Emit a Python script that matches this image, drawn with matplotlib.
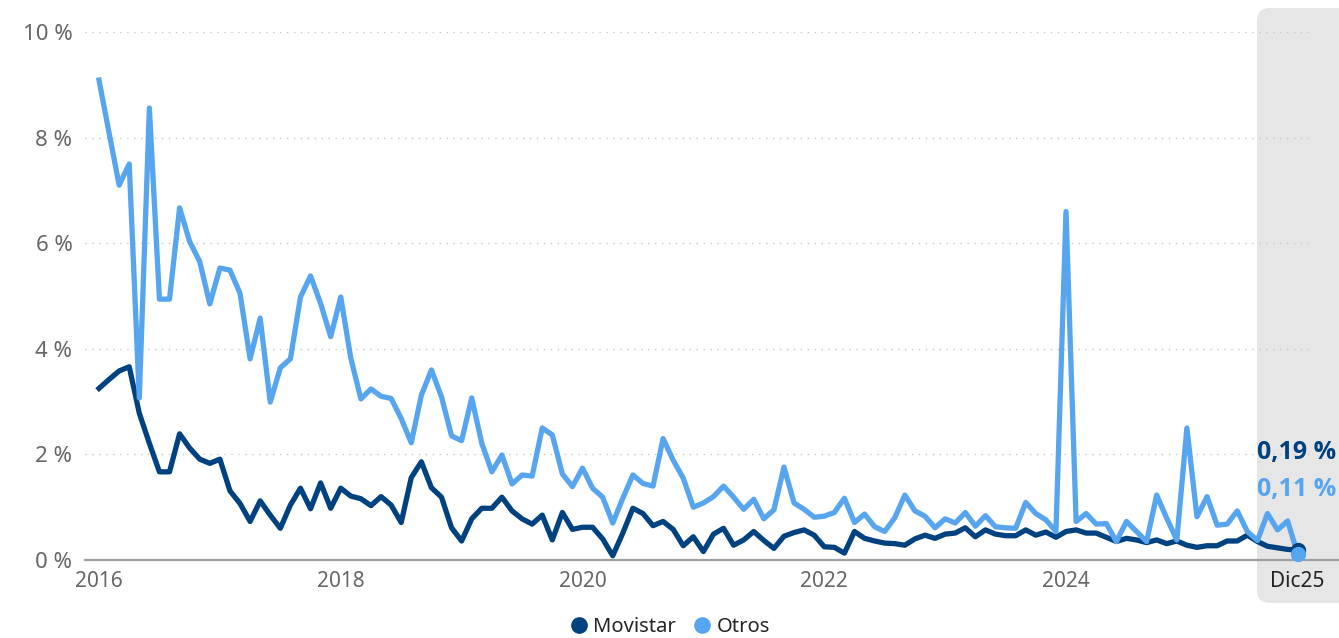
import numpy as np
import matplotlib
matplotlib.use("Agg")
import matplotlib.pyplot as plt
from matplotlib.patches import FancyBboxPatch
from matplotlib.lines import Line2D

plt.rcParams['font.family'] = ['Noto Sans', 'DejaVu Sans']

# monthly values, Jan 2016 .. Dec 2025 (%)
otros = [
    9.09, 8.09, 7.10, 7.50, 3.07, 8.56, 4.94, 4.94, 6.67, 6.03, 5.65, 4.85,
    5.53, 5.49, 5.05, 3.81, 4.58, 2.99, 3.64, 3.81, 4.98, 5.38, 4.86, 4.23,
    4.98, 3.82, 3.05, 3.24, 3.10, 3.06, 2.68, 2.22, 3.12, 3.60, 3.09, 2.35,
    2.26, 3.07, 2.21, 1.67, 1.99, 1.44, 1.61, 1.59, 2.50, 2.37, 1.63, 1.39,
    1.74, 1.36, 1.19, 0.70, 1.17, 1.61, 1.45, 1.40, 2.30, 1.89, 1.55, 1.00,
    1.08, 1.20, 1.40, 1.19, 0.96, 1.15, 0.78, 0.95, 1.76, 1.08, 0.96, 0.81,
    0.83, 0.90, 1.17, 0.71, 0.87, 0.63, 0.54, 0.80, 1.23, 0.93, 0.83, 0.61,
    0.78, 0.70, 0.90, 0.64, 0.84, 0.63, 0.61, 0.60, 1.09, 0.88, 0.76, 0.54,
    6.60, 0.73, 0.88, 0.68, 0.69, 0.35, 0.73, 0.54, 0.35, 1.23, 0.79, 0.38,
    2.50, 0.82, 1.20, 0.66, 0.68, 0.93, 0.54, 0.37, 0.88, 0.57, 0.74, 0.11,
]
movistar = [
    3.25, 3.42, 3.58, 3.66, 2.78, 2.21, 1.67, 1.67, 2.39, 2.12, 1.91, 1.83,
    1.91, 1.31, 1.07, 0.73, 1.12, 0.85, 0.60, 1.04, 1.36, 0.97, 1.46, 0.98,
    1.36, 1.21, 1.16, 1.03, 1.20, 1.04, 0.71, 1.56, 1.86, 1.37, 1.19, 0.61,
    0.36, 0.78, 0.98, 0.98, 1.19, 0.93, 0.78, 0.68, 0.85, 0.38, 0.90, 0.58,
    0.62, 0.62, 0.40, 0.08, 0.51, 0.98, 0.88, 0.65, 0.73, 0.58, 0.27, 0.44,
    0.16, 0.49, 0.60, 0.28, 0.38, 0.54, 0.37, 0.22, 0.45, 0.52, 0.57, 0.47,
    0.25, 0.24, 0.13, 0.54, 0.41, 0.36, 0.32, 0.31, 0.28, 0.40, 0.47, 0.41,
    0.49, 0.51, 0.61, 0.44, 0.57, 0.49, 0.46, 0.46, 0.57, 0.47, 0.53, 0.43,
    0.54, 0.57, 0.51, 0.51, 0.43, 0.35, 0.41, 0.38, 0.33, 0.38, 0.31, 0.36,
    0.28, 0.24, 0.27, 0.27, 0.36, 0.36, 0.47, 0.35, 0.26, 0.23, 0.20, 0.19,
]
months = np.arange(len(otros))
xtick_pos = [0, 24, 48, 72, 96, 119]
xtick_labels = ['2016', '2018', '2020', '2022', '2024', 'Dic25']
ytick_pos = [0, 2, 4, 6, 8, 10]

c_mov = '#00427f'
c_otr = '#58a5ef'

W, H = 1339, 638
fig = plt.figure(figsize=(W / 100, H / 100), dpi=100)
ax = fig.add_axes([85 / W, (H - 560) / H, (W - 85) / W, (560 - 32) / H])
ax.set_facecolor('none')

# grey highlight box behind the last month
box = FancyBboxPatch((12.57, 0.35), 0.95, 5.95,
                     boxstyle="round,pad=0,rounding_size=0.13",
                     transform=fig.dpi_scale_trans, facecolor='#e6e6e6',
                     edgecolor='none', zorder=-1)
fig.patches.append(box)

ax.set_xlim(-1.39, 123.1)
ax.set_ylim(0, 10)

ax.hlines(ytick_pos[1:], -1.39, 120.3, colors='#c8c8c8', linestyles=(0, (1, 4)),
          linewidth=1.0, zorder=1)

ax.plot(months, otros, color=c_otr, lw=3.8, solid_joinstyle='round', zorder=3)
ax.plot(months, movistar, color=c_mov, lw=3.8, solid_joinstyle='round', zorder=2)
ax.plot(months[-1], movistar[-1], 'o', color=c_mov, ms=10, zorder=4, clip_on=False)
ax.plot(months[-1], otros[-1], 'o', color=c_otr, ms=10, zorder=5, clip_on=False)

for s in ['top', 'right', 'left']:
    ax.spines[s].set_visible(False)
ax.spines['bottom'].set_color('#a0a0a0')
ax.spines['bottom'].set_linewidth(1.6)

ax.set_yticks(ytick_pos)
ax.set_yticklabels([f'{v} %' for v in ytick_pos])
ax.set_xticks(xtick_pos)
ax.set_xticklabels(xtick_labels)
ax.tick_params(axis='y', length=0, pad=9, labelsize=16, labelcolor='#666666')
ax.tick_params(axis='x', length=0, pad=8, labelsize=15, labelcolor='#666666')
ax.get_xticklabels()[-1].set_color('#252423')

def fmt(v):
    return f'{v:.2f}'.replace('.', ',') + ' %'

lab_font = ['Open Sans', 'DejaVu Sans']
ax.text(0.935, 0.203, fmt(movistar[-1]), transform=ax.transAxes, color=c_mov,
        fontsize=18, fontweight='bold', family=lab_font, va='center', ha='left',
        clip_on=False)
ax.text(0.935, 0.133, fmt(otros[-1]), transform=ax.transAxes, color=c_otr,
        fontsize=18, fontweight='bold', family=lab_font, va='center', ha='left',
        clip_on=False)

handles = [Line2D([], [], marker='o', ls='none', color=c_mov, ms=11),
           Line2D([], [], marker='o', ls='none', color=c_otr, ms=11)]
fig.legend(handles, ['Movistar', 'Otros'], loc='center', bbox_to_anchor=(0.5, 11 / H),
           ncol=2, frameon=False, fontsize=14.5, handletextpad=0.2, columnspacing=0.8,
           handlelength=1.0, labelcolor='#252423')

fig.savefig('out.png', dpi=100)
